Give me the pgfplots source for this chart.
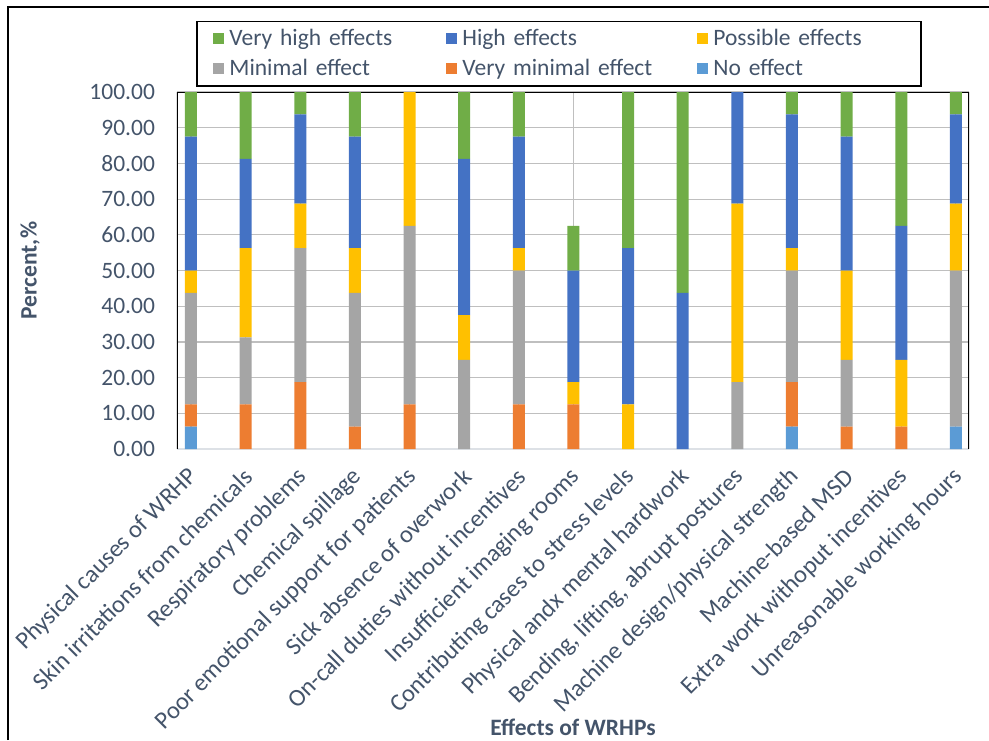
\documentclass[border=0pt]{standalone}
\usepackage{pgfplots}
\pgfplotsset{compat=1.18}
\usepackage{pgfplotstable}
\usepackage{fontspec}
\setmainfont{Carlito}
\definecolor{txt}{HTML}{44546A}
\definecolor{cNo}{HTML}{5B9BD5}
\definecolor{cVM}{HTML}{ED7D31}
\definecolor{cMin}{HTML}{A5A5A5}
\definecolor{cPos}{HTML}{FFC000}
\definecolor{cHigh}{HTML}{4472C4}
\definecolor{cVH}{HTML}{70AD47}
\definecolor{grid}{HTML}{DDE1E6}
\pgfplotstableread{
x NoE VM Min Pos High VH
0 6.25 6.25 31.25 6.25 37.5 12.5
1 0 12.5 18.75 25 25 18.75
2 0 18.75 37.5 12.5 25 6.25
3 0 6.25 37.5 12.5 31.25 12.5
4 0 12.5 50 37.5 0 0
5 0 0 25 12.5 43.75 18.75
6 0 12.5 37.5 6.25 31.25 12.5
7 0 12.5 0 6.25 31.25 12.5
8 0 0 0 12.5 43.75 43.75
9 0 0 0 0 43.75 56.25
10 0 0 18.75 50 31.25 0
11 6.25 12.5 31.25 6.25 37.5 6.25
12 0 6.25 18.75 25 37.5 12.5
13 0 6.25 0 18.75 37.5 37.5
14 6.25 0 43.75 18.75 25 6.25
}\datatable
\begin{document}
\fontsize{23.5}{28}\selectfont
\begin{tikzpicture}[x=1pt,y=1pt]
\useasboundingbox (0,0) rectangle (989,740);
\draw[line width=2pt] (8,0) -- (8,733) -- (989,733);
\begin{axis}[
  at={(177pt,291pt)}, anchor=south west,
  scale only axis, width=792pt, height=357pt,
  ybar stacked, bar width=12pt,
  xmin=-0.256, xmax=14.24, ymin=0, ymax=100,
  xtick={0,...,14},
  xticklabels={Physical causes of WRHP, Skin irritations from chemicals, Respiratory problems, Chemical spillage, Poor emotional support for patients, Sick absence of overwork, On-call duties without incentives, Insufficient imaging rooms, Contributing cases to stress levels, Physical andx mental hardwork, {Bending, lifting, abrupt postures}, Machine design/physical strength, Machine-based MSD, Extra work withoput incentives, Unreasonable working hours},
  ytick={0,10,...,100},
  major tick length=0pt,
  ymajorgrids, grid style={grid, line width=1.2pt},
  axis line style={draw=none},
  /pgf/number format/.cd, fixed, fixed zerofill, precision=2, assume math mode=true,
  /pgfplots/.cd,
  tick label style={text=txt},
  yticklabel style={xshift=-14pt},
  xticklabel style={font=\fontsize{24.5}{29}\selectfont, xshift=3pt, yshift=-24pt, rotate=45, anchor=east, inner sep=0pt},
  xlabel={\bfseries Effects of WRHPs},
  ylabel={\bfseries Percent,\%},
  every axis x label/.style={at={(rel axis cs:0.5,0)}, anchor=center, yshift=-278pt, text=txt},
  every axis y label/.style={at={(rel axis cs:0,0.5)}, anchor=center, xshift=-147pt, rotate=90, text=txt},
  reverse legend,
  legend columns=3,
  legend cell align=left,
  legend image code/.code={\fill[#1] (0pt,-5pt) rectangle (11pt,6pt);},
  legend style={at={(0.024,1)}, anchor=south west, yshift=5pt, draw=black, line width=1.8pt,
    text=txt, inner xsep=16pt, inner ysep=6pt,
    nodes={text width=190pt, inner sep=1.5pt},
    /tikz/row sep=7pt,
    /tikz/every odd column/.append style={column sep=4pt},
    /tikz/column 2/.append style={column sep=25pt},
    /tikz/column 4/.append style={column sep=43pt}},
]
\addplot[fill=cNo, draw=none] table[x=x,y=NoE]{\datatable};
\addlegendentry{No effect}
\addplot[fill=cVM, draw=none] table[x=x,y=VM]{\datatable};
\addlegendentry{Very minimal effect}
\addplot[fill=cMin, draw=none] table[x=x,y=Min]{\datatable};
\addlegendentry{Minimal effect}
\addplot[fill=cPos, draw=none] table[x=x,y=Pos]{\datatable};
\addlegendentry{Possible effects}
\addplot[fill=cHigh, draw=none] table[x=x,y=High]{\datatable};
\addlegendentry{High effects}
\addplot[fill=cVH, draw=none] table[x=x,y=VH]{\datatable};
\addlegendentry{Very high effects}
\draw[black, line width=1.5pt] (rel axis cs:0,0) -- (rel axis cs:0,1) -- (rel axis cs:1,1) -- (rel axis cs:1,0);
\draw[grid, line width=1.5pt] (rel axis cs:0,0) -- (rel axis cs:1,0);
\end{axis}
\end{tikzpicture}
\end{document}
